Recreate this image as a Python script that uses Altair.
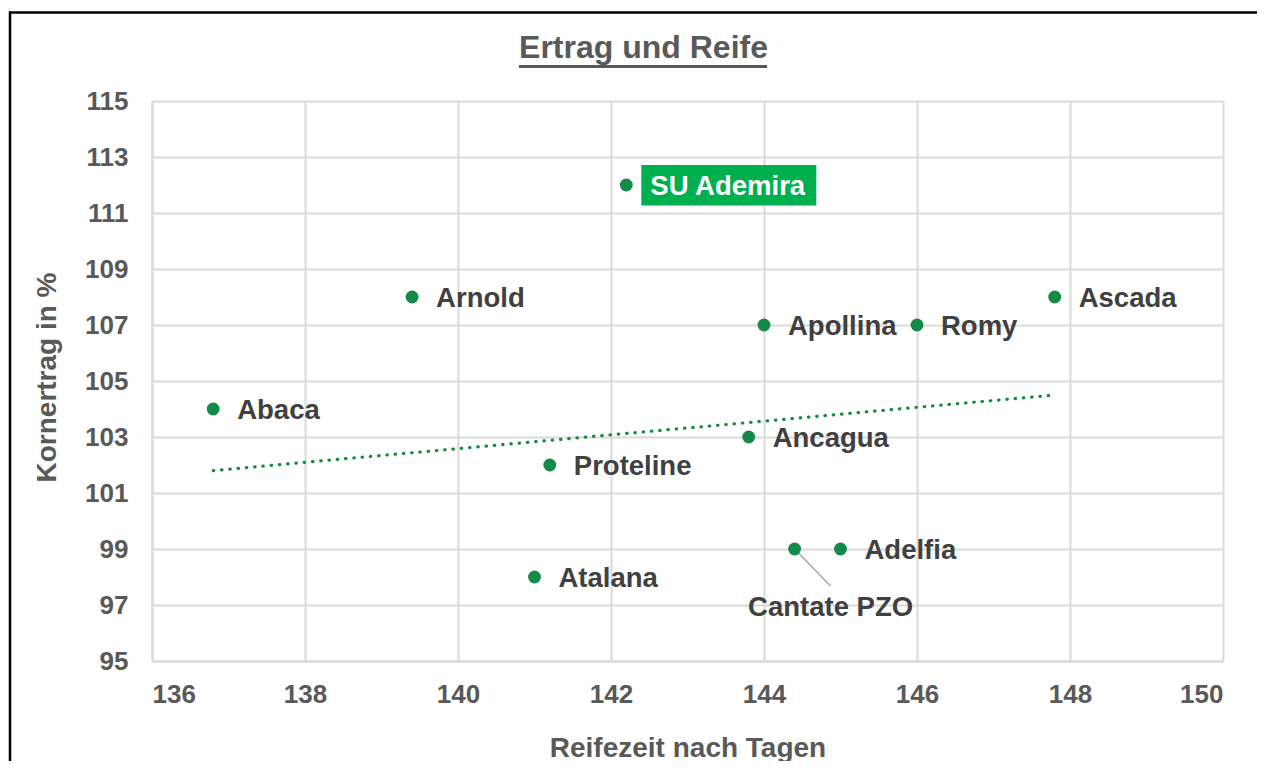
import altair as alt
import pandas as pd

# ---- data ----
names = ["SU Ademira", "Arnold", "Apollina", "Romy", "Ascada", "Abaca",
         "Ancagua", "Proteline", "Adelfia", "Cantate PZO", "Atalana"]
days = [142.2, 139.4, 144.0, 146.0, 147.8, 136.8, 143.8, 141.2, 145.0, 144.4, 141.0]
yields = [112, 108, 107, 107, 108, 104, 103, 102, 99, 99, 98]

trend_days = [136.8, 147.8]
trend_yields = [101.8, 104.5]

x_ticks = [136, 138, 140, 142, 144, 146, 148, 150]
y_ticks = [95, 97, 99, 101, 103, 105, 107, 109, 111, 113, 115]

title_text = ["Ertrag und Reife"]

df = pd.DataFrame({"Sorte": names, "Reife": days, "Ertrag": yields})
trend = pd.DataFrame({"Reife": trend_days, "Ertrag": trend_yields})
title_df = pd.DataFrame({"t": title_text})

FONT = "Liberation Sans"
GREEN = "#148a48"
BOX = "#00b050"
TXT = "#404040"
AX = "#595959"

W, H = 1071, 560

x_enc = alt.X("Reife:Q",
              scale=alt.Scale(domain=[136, 150], nice=False, zero=False),
              axis=alt.Axis(values=x_ticks, title="Reifezeit nach Tagen",
                            labelPadding=20, titleY=87, titleBaseline="middle",
                            format="d"))
y_enc = alt.Y("Ertrag:Q",
              scale=alt.Scale(domain=[95, 115], nice=False, zero=False),
              axis=alt.Axis(values=y_ticks, title="Kornertrag in %",
                            labelPadding=24, titleX=-105, titleY=276,
                            titleAngle=270, titleBaseline="middle",
                            format="d"))

base = alt.Chart(df).encode(x=x_enc, y=y_enc)

trend_line = alt.Chart(trend).mark_line(
    color=GREEN, strokeWidth=3.2, strokeDash=[0.5, 7.8], strokeCap="round"
).encode(x="Reife:Q", y="Ertrag:Q")

leader = base.transform_filter(alt.datum.Sorte == "Cantate PZO").mark_rule(
    color="#a6a6a6", strokeWidth=1.5, x2Offset=36, y2Offset=37
).encode(x2="Reife:Q", y2="Ertrag:Q")

points = base.mark_circle(size=165, color=GREEN, opacity=1)

box = base.transform_filter(alt.datum.Sorte == "SU Ademira").mark_rect(
    color=BOX, xOffset=15, x2Offset=190, yOffset=-20, y2Offset=20.5
).encode(x2="Reife:Q", y2="Ertrag:Q")

txt_common = dict(font=FONT, fontSize=27.5, fontWeight="bold", baseline="middle")

labels = base.transform_filter(
    (alt.datum.Sorte != "SU Ademira") & (alt.datum.Sorte != "Cantate PZO")
).mark_text(align="left", dx=24, dy=1.5, color=TXT, **txt_common).encode(text="Sorte:N")

label_su = base.transform_filter(alt.datum.Sorte == "SU Ademira").mark_text(
    align="left", dx=24, dy=1.5, color="white", **txt_common
).encode(text="Sorte:N")

label_cantate = base.transform_filter(alt.datum.Sorte == "Cantate PZO").mark_text(
    align="center", dx=36, dy=58.5, color=TXT, **txt_common
).encode(text="Sorte:N")

# chart title (drawn as text so that it sits inside the framed box)
title_mark = alt.Chart(title_df).mark_text(
    font=FONT, fontSize=32, fontWeight="bold", color=AX,
    align="center", baseline="alphabetic"
).encode(text="t:N", x=alt.value(491.5), y=alt.value(-43))

deco = pd.DataFrame({"k": [0]})
underline = alt.Chart(deco).mark_rule(color=AX, strokeWidth=3).encode(
    x=alt.value(367), x2=alt.value(615), y=alt.value(-34.5))
frame_top = alt.Chart(deco).mark_rule(color="black", strokeWidth=2.5).encode(
    x=alt.value(-143), x2=alt.value(1120), y=alt.value(-88.5))
frame_left = alt.Chart(deco).mark_rule(color="black", strokeWidth=2.5).encode(
    x=alt.value(-142), y=alt.value(-89.5), y2=alt.value(700))

chart = alt.layer(
    trend_line, leader, points, box, labels, label_su, label_cantate,
    title_mark, underline, frame_top, frame_left
).properties(
    width=W, height=H,
    autosize=alt.AutoSizeParams(type="none"),
    padding={"left": 144, "top": 93, "right": 34, "bottom": 100},
    background="white",
).configure_view(
    strokeWidth=0
).configure_axis(
    grid=True, gridColor="#d9d9d9", gridWidth=2,
    domainColor="#d9d9d9", domainWidth=2, ticks=False,
    labelFont=FONT, labelFontSize=26, labelFontWeight="bold", labelColor=AX,
    titleFont=FONT, titleFontSize=28, titleFontWeight="bold", titleColor=AX,
)

chart.save("out.html", embed_options={"renderer": "svg", "actions": False})
